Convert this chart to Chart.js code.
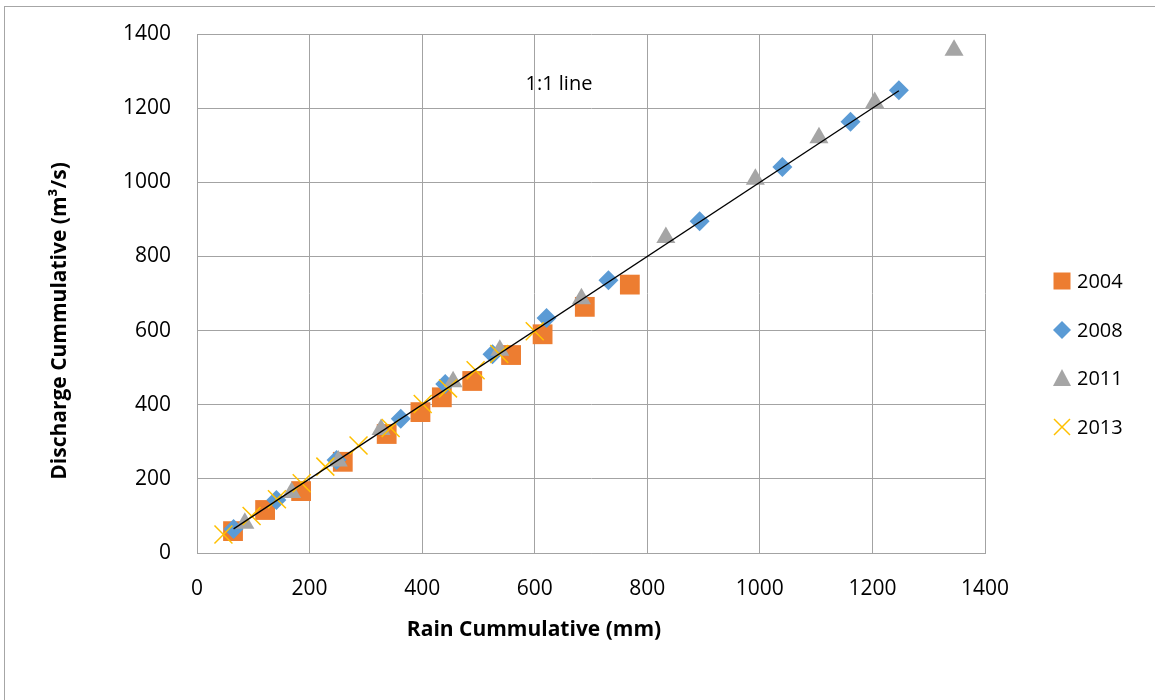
<!DOCTYPE html>
<html>
<head>
<meta charset="utf-8">
<title>Rain vs Discharge Cummulative</title>
<script src="https://cdn.jsdelivr.net/npm/chart.js@4.4.1/dist/chart.umd.min.js"></script>
<style>
    html, body { margin: 0; padding: 0; background: #fff; }
    #wrap { width: 1155px; height: 700px; position: relative; }
</style>
</head>
<body>
<div id="wrap"><canvas id="myChart"></canvas></div>
<script>
// values
const seriesNames = ['2004', '2008', '2011', '2013'];

const rain2004 = [64, 121, 185, 259, 337, 397, 435, 489, 558, 614, 689, 769];
const discharge2004 = [59, 116, 167, 246, 321, 380, 420, 464, 534, 590, 664, 724];

const rain2008 = [65, 141, 248, 362, 441, 525, 621, 731, 893, 1040, 1161, 1247];
const discharge2008 = [65, 143, 251, 362, 456, 536, 634, 736, 895, 1041, 1163, 1248];

const rain2011 = [85, 168, 251, 327, 455, 538, 683, 833, 992, 1105, 1204, 1345];
const discharge2011 = [80, 163, 248, 333, 462, 547, 686, 851, 1008, 1120, 1215, 1356];

const rain2013 = [47, 97, 142, 186, 228, 287, 344, 401, 446, 495, 537, 600];
const discharge2013 = [50, 100, 145, 188, 233, 290, 337, 402, 444, 493, 537, 598];

// 1:1 reference line end points
const lineRain = [65, 1247];
const lineDischarge = [65, 1247];

const tickValues = [0, 200, 400, 600, 800, 1000, 1200, 1400];

const xTitle = 'Rain Cummulative (mm)';
const yTitle = 'Discharge Cummulative (m³/s)';
const lineLabel = '1:1 line';

const colors = ['#ED7D31', '#5B9BD5', '#A5A5A5', '#FFC000'];
const gridColor = '#a3a3a3';
const fontFamily = "'Open Sans', 'DejaVu Sans', sans-serif";

function toPoints(xs, ys) {
    return xs.map((x, i) => ({ x: x, y: ys[i] }));
}

Chart.defaults.font.family = fontFamily;
Chart.defaults.color = '#000';

// legend markers drawn by hand so the entries sit where the picture has them
function drawMarker(ctx, kind, x, y, color) {
    ctx.save();
    ctx.fillStyle = color;
    ctx.strokeStyle = color;
    ctx.beginPath();
    if (kind === 'square') {
        ctx.rect(x - 8.5, y - 8.5, 17, 17);
        ctx.fill();
    } else if (kind === 'diamond') {
        ctx.moveTo(x, y - 9);
        ctx.lineTo(x + 9, y);
        ctx.lineTo(x, y + 9);
        ctx.lineTo(x - 9, y);
        ctx.closePath();
        ctx.fill();
    } else if (kind === 'triangle') {
        ctx.moveTo(x, y - 9);
        ctx.lineTo(x + 9, y + 8);
        ctx.lineTo(x - 9, y + 8);
        ctx.closePath();
        ctx.fill();
    } else {
        ctx.lineWidth = 1.5;
        ctx.moveTo(x - 8, y - 8);
        ctx.lineTo(x + 8, y + 8);
        ctx.moveTo(x + 8, y - 8);
        ctx.lineTo(x - 8, y + 8);
        ctx.stroke();
    }
    ctx.restore();
}

const extras = {
    id: 'extras',
    afterDraw(chart) {
        const ctx = chart.ctx;
        const xs = chart.scales.x;
        const ys = chart.scales.y;

        // outer chart border
        ctx.save();
        ctx.strokeStyle = '#a6a6a6';
        ctx.lineWidth = 1;
        ctx.strokeRect(4.5, 6.5, 1200, 800);

        // axis titles
        ctx.fillStyle = '#000';
        ctx.font = 'bold 21px ' + fontFamily;
        ctx.textAlign = 'center';
        ctx.textBaseline = 'middle';
        ctx.fillText(xTitle, 534, 630);
        ctx.save();
        ctx.translate(60, 321);
        ctx.rotate(-Math.PI / 2);
        ctx.fillText(yTitle, 0, 0);
        ctx.restore();

        // 1:1 label
        ctx.font = '20px ' + fontFamily;
        ctx.fillText(lineLabel, xs.getPixelForValue(643), ys.getPixelForValue(1265));

        // legend
        const kinds = ['square', 'diamond', 'triangle', 'cross'];
        const rows = [281, 330, 378, 427];
        ctx.textAlign = 'left';
        seriesNames.forEach((name, i) => {
            drawMarker(ctx, kinds[i], 1062, rows[i], colors[i]);
            ctx.fillStyle = '#000';
            ctx.fillText(name, 1077, rows[i] + 1);
        });
        ctx.restore();
    }
};

const data = {
    datasets: [
        {
            label: '1:1 line',
            data: toPoints(lineRain, lineDischarge),
            showLine: true,
            borderColor: '#000',
            borderWidth: 1.3,
            pointRadius: 0,
            order: 0
        },
        {
            label: seriesNames[3],
            data: toPoints(rain2013, discharge2013),
            pointStyle: 'crossRot',
            pointRadius: 12.7,
            borderColor: colors[3],
            backgroundColor: colors[3],
            pointBorderWidth: 1.5,
            order: 1
        },
        {
            label: seriesNames[2],
            data: toPoints(rain2011, discharge2011),
            pointStyle: 'triangle',
            pointRadius: 11,
            borderColor: colors[2],
            backgroundColor: colors[2],
            pointBorderWidth: 0,
            order: 2
        },
        {
            label: seriesNames[1],
            data: toPoints(rain2008, discharge2008),
            pointStyle: 'rectRot',
            pointRadius: 10,
            borderColor: colors[1],
            backgroundColor: colors[1],
            pointBorderWidth: 0,
            order: 3
        },
        {
            label: seriesNames[0],
            data: toPoints(rain2004, discharge2004),
            pointStyle: 'rect',
            pointRadius: 14,
            borderColor: colors[0],
            backgroundColor: colors[0],
            pointBorderWidth: 0,
            order: 4
        }
    ]
};

const config = {
    type: 'scatter',
    data: data,
    options: {
        responsive: true,
        maintainAspectRatio: false,
        animation: false,
        layout: {
            padding: { left: 0, top: 34, right: 170, bottom: 0 }
        },
        plugins: {
            legend: { display: false },
            tooltip: { enabled: false }
        },
        scales: {
            x: {
                type: 'linear',
                min: 0,
                max: 1400,
                afterBuildTicks: (scale) => {
                    scale.ticks = tickValues.map(v => ({ value: v }));
                },
                afterFit: (scale) => {
                    scale.height = 147;
                    scale.paddingLeft = 0;
                    scale.paddingRight = 0;
                },
                grid: { color: gridColor, drawTicks: false, lineWidth: 1 },
                border: { color: gridColor },
                ticks: { padding: 23, font: { size: 21 }, color: '#000', maxRotation: 0,
                         callback: (v) => String(v) }
            },
            y: {
                type: 'linear',
                min: 0,
                max: 1400,
                afterBuildTicks: (scale) => {
                    scale.ticks = tickValues.map(v => ({ value: v }));
                },
                afterFit: (scale) => {
                    scale.width = 197;
                    scale.paddingTop = 0;
                    scale.paddingBottom = 0;
                },
                grid: { color: gridColor, drawTicks: false, lineWidth: 1 },
                border: { color: gridColor },
                ticks: { padding: 26, font: { size: 21 }, color: '#000',
                         callback: (v) => String(v) }
            }
        }
    },
    plugins: [extras]
};

const myChart = new Chart(document.getElementById('myChart'), config);
</script>
</body>
</html>
